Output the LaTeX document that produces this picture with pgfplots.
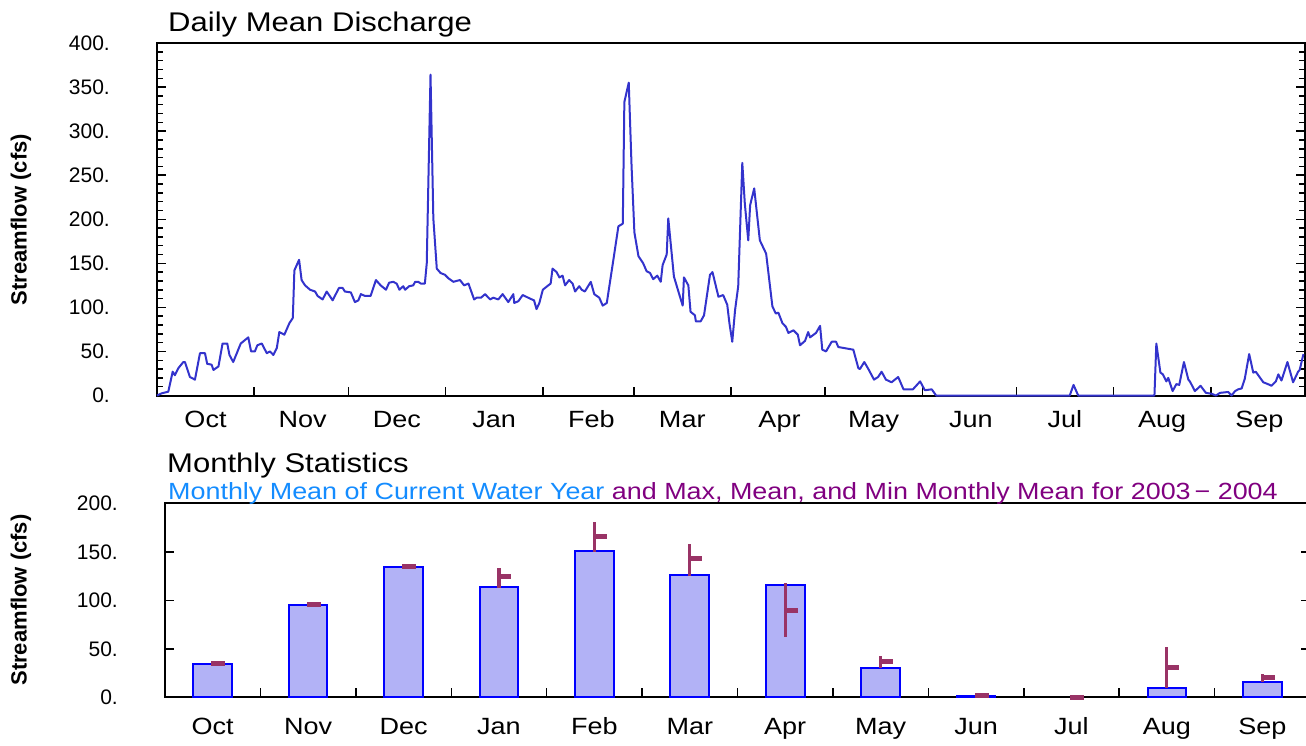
\documentclass[border=0pt]{standalone}
\usepackage{fontspec}
\setmainfont{Liberation Sans}
\newfontfamily\widefont[FakeStretch=1.15]{Liberation Sans}
\usepackage{pgfplots}
\pgfplotsset{compat=1.18}
\definecolor{linecol}{RGB}{51,51,204}
\definecolor{barfill}{RGB}{178,178,246}
\definecolor{barline}{RGB}{0,0,255}
\definecolor{markcol}{RGB}{153,51,102}
\definecolor{subblue}{RGB}{20,140,255}
\definecolor{subpurple}{RGB}{128,0,128}
\pgfdeclareplotmark{meantick}{\pgfpathrectangle{\pgfpoint{-1.5pt}{-2.5pt}}{\pgfpoint{14pt}{5pt}}\pgfusepathqfill}
\begin{document}
\begin{tikzpicture}
\useasboundingbox (0,0) rectangle (1306pt,-746pt);
% ---------------- top: daily mean discharge ----------------
\begin{axis}[
  at={(157pt,-395.5pt)}, anchor=south west,
  width=1148pt, height=352.5pt, scale only axis,
  xmin=0, xmax=366, ymin=0, ymax=400,
  clip=false,
  axis line style={line width=2pt, black},
  tick style={black, line width=1.5pt},
  major tick length=9pt, minor tick length=6pt,
  xtick={0,31,61,92,123,152,183,213,244,274,305,336},
  xticklabels={Oct,Nov,Dec,Jan,Feb,Mar,Apr,May,Jun,Jul,Aug,Sep},
  xticklabel style={anchor=base, inner sep=0pt, xshift=48.5pt, yshift=-31.5pt, font=\widefont\fontsize{23.5}{26}\selectfont},
  xtick pos=left,
  ytick={0,50,100,150,200,250,300,350,400},
  yticklabels={0.,50.,100.,150.,200.,250.,300.,350.,400.},
  minor y tick num=4,
  ytick pos=both, yticklabel pos=left,
  yticklabel style={anchor=east, inner sep=0pt, xshift=-47pt, font=\fontsize{21}{24}\selectfont},
]
\addplot[linecol, line width=2pt, line join=round] table[x=day, y=q] {
day q
0 0
1.5 2.5
3.6 4.3
5.0 27
5.7 23
6.8 31
8.4 38
8.9 38
10.5 21
12.1 18
13.7 48
15.3 48
16.0 36
17.4 35
18.0 29
19.6 33
20.9 59
22.4 59
23.1 46
24.3 38
26.7 59
29.1 66
30.0 50
31.2 50
32.0 57
33.4 59
35.0 48
36.0 50
37.1 46
38.2 54
39.0 72
40.6 69
42.2 82
43.3 88
43.8 142
45.3 154
46.1 131
47.2 125
48.8 120
50.4 118
51.2 113
52.8 109
54.1 118
56.0 108
58.0 122
59.2 122
59.9 118
61.8 117
63.1 106
64.2 108
65.0 115
66.3 113
68.1 113
69.8 131
71.3 125
73.0 120
74.0 128
75.3 129
76.4 127
77.3 120
78.5 124
79.1 120
80.4 124
81.7 125
82.3 129
83.3 129
84.1 127
85.4 127
86.0 150
87.2 364
88.1 201
89.2 144
90.4 139
91.8 137
92.9 133
94.5 129
95.5 130
96.6 131
97.9 125
99.3 127
101.1 109
101.9 111
103.3 111
104.6 115
106.2 109
107.2 111
108.8 109
110.2 115
112.0 106
113.6 115
113.9 105
115.2 107
116.6 114
118.9 110
120.2 108
121.0 98
121.9 105
123.0 120
124.4 124
125.5 127
126.1 144
127.4 140
128.3 134
129.3 136
130.1 125
131.4 131
132.5 127
133.3 118
134.6 124
135.4 120
136.4 118
138.3 129
139.4 115
141.0 111
142.1 102
143.4 105
145.5 154
147.1 192
148.5 195
149.0 333
150.4 355
151.3 260
152.2 185
153.5 158
155.0 150
156.1 141
157.2 139
158.2 132
159.5 136
160.6 129
161.2 148
162.5 160
163.0 201
164.8 135
166.4 116
167.6 102
168.0 134
169.4 125
170.1 95
171.5 91
171.8 84
173.3 84
174.4 91
176.3 137
177.1 140
179.0 112
180.5 114
181.8 103
182.5 82
183.4 61
184.3 97
185.3 124
186.6 264
187.4 218
188.5 176
189.1 216
190.4 235
192.2 176
194.2 161
196.2 101
197.3 93
198.1 94
199.4 82
200.5 78
201.3 71
202.9 74
204.3 69
205.0 57
206.6 62
207.6 72
208.2 66
210.1 71
211.4 79
212.1 52
213.3 50
215.1 61
216.5 61
217.2 55
218.8 54
222.0 52
223.6 31
224.1 30
225.5 38
226.8 30
228.6 18
229.9 21
231.0 27
232.4 18
234.2 15
236.3 21
238.0 7
241.0 7
243.3 16
244.8 6
247.0 7
248.4 0
291.0 0
292.2 12
293.7 0
318.0 0
318.6 59
319.9 26
320.7 24
321.8 16
322.4 20
323.8 5
325.0 13
325.9 12
327.4 38
328.8 18
329.3 16
330.9 5
332.7 11
334.4 3
336.2 2
337.6 0
338.9 3
341.5 4
342.6 0
343.7 5
344.7 7
345.8 8
346.8 19
348.2 47
349.5 26
350.3 27
352.7 15
354.8 12
355.3 11
356.7 16
357.5 24
358.5 17
360.4 38
362.2 15
363.8 27
364.3 29
365.5 47
};
\end{axis}
% ---------------- bottom: monthly statistics ----------------
\begin{axis}[
  at={(165pt,-697.3pt)}, anchor=south west,
  width=1145pt, height=194pt, scale only axis,
  xmin=-0.5, xmax=11.5, ymin=0, ymax=200,
  axis line style={line width=2pt, black},
  tick style={black, line width=1.5pt},
  major tick length=9pt,
  xtick={-0.5,0.5,1.5,2.5,3.5,4.5,5.5,6.5,7.5,8.5,9.5,10.5},
  xticklabels={Oct,Nov,Dec,Jan,Feb,Mar,Apr,May,Jun,Jul,Aug,Sep},
  xticklabel style={anchor=base, inner sep=0pt, xshift=47.7pt, yshift=-37pt, font=\widefont\fontsize{23.5}{26}\selectfont},
  xtick pos=left,
  ytick={0,50,100,150,200},
  yticklabels={0.,50.,100.,150.,200.},
  ytick pos=both, yticklabel pos=left,
  yticklabel style={anchor=east, inner sep=0pt, xshift=-47pt, font=\fontsize{21}{24}\selectfont},
]
\addplot[ybar, bar width=38.6pt, draw=barline, line width=2pt, fill=barfill] coordinates {
(0,34.3) (1,95.5) (2,134.3) (3,113.8) (4,150.5) (5,126.4) (6,116.1) (7,30.3) (8,1.8) (10,9.8) (11,15.9)
};
\addplot[only marks, color=markcol, mark=meantick, mark options={fill=markcol, draw=none},
  error bars/.cd, y dir=both, y explicit, error mark=none,
  error bar style={draw=markcol, line width=3.2pt}]
  table[x=x, y=mean, y error plus=ep, y error minus=em] {
x mean ep em
0 35 0 0
1 96 0 0
2 135 0 0
3 124.4 9.3 11.4
4 165.3 15.1 15.1
5 143 15 17.6
6 89.7 27.8 27.8
7 36.8 6.2 6.8
8 2 0 0
9 0 0 0
10 30.6 21.3 21.3
11 20.6 3.8 5.1
};
\end{axis}
% ---------------- texts ----------------
\node[anchor=base west, inner sep=0pt, font=\widefont\fontsize{27}{30}\selectfont] at (168pt,-32pt) {Daily Mean Discharge};
\node[anchor=base west, inner sep=0pt, font=\widefont\fontsize{27}{30}\selectfont] at (167pt,-472pt) {Monthly Statistics};
\node[anchor=base west, inner sep=0pt, font=\widefont\fontsize{23.4}{26}\selectfont] at (168pt,-499pt) {\textcolor{subblue}{Monthly Mean of Current Water Year} \textcolor{subpurple}{and Max, Mean, and Min Monthly Mean for 2003\,−\ 2004}};
\node[rotate=90, inner sep=0pt, font=\bfseries\fontsize{22}{25}\selectfont] at (21pt,-219.5pt) {Streamflow (cfs)};
\node[rotate=90, inner sep=0pt, font=\bfseries\fontsize{22}{25}\selectfont] at (21pt,-600pt) {Streamflow (cfs)};
\end{tikzpicture}
\end{document}
